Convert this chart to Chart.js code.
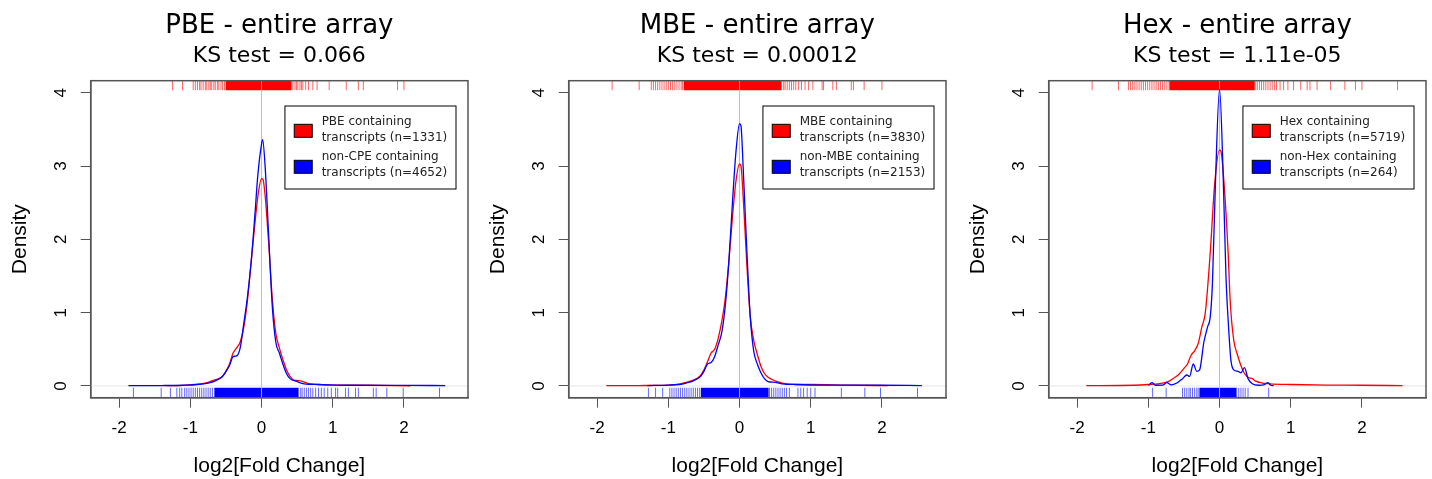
<!DOCTYPE html>
<html>
<head>
<meta charset="utf-8">
<script src="https://cdn.jsdelivr.net/npm/chart.js@4.4.1/dist/chart.umd.min.js"></script>
<style>
  html, body { margin: 0; padding: 0; background: #fff; overflow: hidden; }
  .panel { position: absolute; top: 0; width: 478px; height: 479px; }
</style>
</head>
<body>
<div class="panel" style="left:0"><canvas id="pbeChart"></canvas></div>
<div class="panel" style="left:478px"><canvas id="mbeChart"></canvas></div>
<div class="panel" style="left:958px"><canvas id="hexChart"></canvas></div>
<script>
const xTicks = [-2, -1, 0, 1, 2];
const yTicks = [0, 1, 2, 3, 4];

// PBE - density curves [log2FC, density]
const pbeRed = [[-1.34,0.004],[-1.1,0.008],[-0.95,0.02],[-0.85,0.03],[-0.75,0.05],[-0.67,0.08],[-0.6,0.1],[-0.55,0.13],[-0.5,0.2],[-0.45,0.3],[-0.4,0.45],[-0.35,0.52],[-0.3,0.6],[-0.25,0.8],[-0.2,1.15],[-0.15,1.65],[-0.1,2.15],[-0.05,2.6],[0,2.83],[0.02,2.82],[0.05,2.6],[0.1,1.95],[0.15,1.2],[0.2,0.72],[0.25,0.52],[0.3,0.36],[0.35,0.22],[0.4,0.13],[0.45,0.08],[0.55,0.07],[0.65,0.035],[0.8,0.02],[1.0,0.012],[1.5,0.01],[2.09,0.003]];
const pbeBlue = [[-1.87,0.005],[-1.4,0.006],[-1.1,0.01],[-0.9,0.02],[-0.75,0.04],[-0.65,0.07],[-0.55,0.13],[-0.5,0.2],[-0.45,0.28],[-0.4,0.4],[-0.35,0.41],[-0.3,0.52],[-0.25,0.85],[-0.2,1.2],[-0.15,1.65],[-0.1,2.25],[-0.05,2.9],[0,3.3],[0.015,3.36],[0.05,3.0],[0.1,2.05],[0.15,1.1],[0.2,0.6],[0.25,0.45],[0.3,0.3],[0.35,0.17],[0.4,0.1],[0.5,0.06],[0.6,0.03],[0.8,0.02],[1.2,0.01],[2.0,0.008],[2.58,0.005]];
const pbeRugRed = [-1.25,-1.11,-0.96,-0.93,-0.9,-0.87,-0.85,-0.82,-0.79,-0.77,-0.74,-0.72,-0.7,-0.67,-0.65,-0.62,-0.6,-0.57,-0.55,-0.52,0.42,0.44,0.47,0.49,0.51,0.54,0.56,0.58,0.62,0.66,0.72,0.78,0.95,1.19,1.36,1.43,1.91,2.0];
const pbeRugRedDense = [-0.49,-0.465,-0.44,-0.415,-0.39,-0.365,-0.34,-0.315,-0.29,-0.265,-0.24,-0.215,-0.19,-0.165,-0.14,-0.115,-0.09,-0.065,-0.04,-0.015,0.01,0.035,0.06,0.085,0.11,0.135,0.16,0.185,0.21,0.235,0.26,0.285,0.31,0.335,0.36,0.385,0.4];
const pbeRugBlue = [-1.8,-1.41,-1.28,-1.19,-1.15,-1.12,-1.08,-1.05,-1.02,-0.99,-0.96,-0.93,-0.9,-0.87,-0.84,-0.81,-0.78,-0.75,-0.72,-0.69,0.52,0.55,0.57,0.6,0.63,0.66,0.69,0.72,0.76,0.8,0.84,0.88,0.93,0.98,1.04,1.07,1.18,1.22,1.32,1.36,1.57,1.61,1.76,1.99,2.5];
const pbeRugBlueDense = [-0.65,-0.625,-0.6,-0.575,-0.55,-0.525,-0.5,-0.475,-0.45,-0.425,-0.4,-0.375,-0.35,-0.325,-0.3,-0.275,-0.25,-0.225,-0.2,-0.175,-0.15,-0.125,-0.1,-0.075,-0.05,-0.025,0,0.025,0.05,0.075,0.1,0.125,0.15,0.175,0.2,0.225,0.25,0.275,0.3,0.325,0.35,0.375,0.4,0.425,0.45,0.475,0.5];

// MBE
const mbeRed = [[-1.87,0.005],[-1.4,0.006],[-1.0,0.012],[-0.85,0.025],[-0.75,0.05],[-0.65,0.08],[-0.55,0.14],[-0.5,0.22],[-0.45,0.33],[-0.4,0.45],[-0.35,0.5],[-0.3,0.65],[-0.25,0.88],[-0.2,1.2],[-0.15,1.7],[-0.1,2.3],[-0.05,2.8],[0,3.03],[0.02,3.0],[0.05,2.6],[0.1,1.7],[0.15,0.95],[0.2,0.62],[0.25,0.43],[0.3,0.27],[0.35,0.17],[0.4,0.12],[0.5,0.07],[0.6,0.04],[0.8,0.02],[1.0,0.02],[1.5,0.012],[2.08,0.004]];
const mbeBlue = [[-1.3,0.005],[-1.0,0.012],[-0.85,0.02],[-0.75,0.04],[-0.65,0.07],[-0.55,0.13],[-0.5,0.2],[-0.45,0.3],[-0.4,0.32],[-0.35,0.4],[-0.3,0.56],[-0.25,0.73],[-0.2,1.1],[-0.15,1.7],[-0.1,2.5],[-0.05,3.2],[0,3.58],[0.02,3.55],[0.05,3.0],[0.1,1.9],[0.15,0.95],[0.2,0.47],[0.25,0.3],[0.3,0.18],[0.35,0.1],[0.4,0.06],[0.5,0.05],[0.6,0.03],[0.8,0.02],[1.2,0.012],[2.0,0.01],[2.56,0.005]];
const mbeRugRed = [-1.79,-1.41,-1.24,-1.21,-1.18,-1.15,-1.12,-1.09,-1.06,-1.03,-1.0,-0.97,-0.94,-0.91,-0.88,-0.85,-0.82,-0.8,0.59,0.62,0.64,0.67,0.7,0.73,0.76,0.79,0.83,0.87,0.92,0.97,1.03,1.16,1.18,1.31,1.36,1.57,1.6,1.75,2.0];
const mbeRugRedDense = [-0.77,-0.745,-0.72,-0.695,-0.67,-0.645,-0.62,-0.595,-0.57,-0.545,-0.52,-0.495,-0.47,-0.445,-0.42,-0.395,-0.37,-0.345,-0.32,-0.295,-0.27,-0.245,-0.22,-0.195,-0.17,-0.145,-0.12,-0.095,-0.07,-0.045,-0.02,0.005,0.03,0.055,0.08,0.105,0.13,0.155,0.18,0.205,0.23,0.255,0.28,0.305,0.33,0.355,0.38,0.405,0.43,0.455,0.48,0.505,0.53,0.555,0.57];
const mbeRugBlue = [-1.28,-1.18,-1.08,-0.98,-0.95,-0.92,-0.89,-0.86,-0.83,-0.8,-0.77,-0.74,-0.71,-0.68,-0.65,-0.62,-0.59,-0.56,0.42,0.45,0.48,0.51,0.54,0.57,0.6,0.63,0.66,0.7,0.82,0.86,0.9,0.95,1.0,1.06,1.43,1.76,1.98,2.5];
const mbeRugBlueDense = [-0.53,-0.505,-0.48,-0.455,-0.43,-0.405,-0.38,-0.355,-0.33,-0.305,-0.28,-0.255,-0.23,-0.205,-0.18,-0.155,-0.13,-0.105,-0.08,-0.055,-0.03,-0.005,0.02,0.045,0.07,0.095,0.12,0.145,0.17,0.195,0.22,0.245,0.27,0.295,0.32,0.345,0.37,0.395];

// Hex
const hexRed = [[-1.87,0.005],[-1.2,0.01],[-1.0,0.02],[-0.8,0.04],[-0.7,0.07],[-0.64,0.11],[-0.57,0.16],[-0.5,0.24],[-0.45,0.3],[-0.4,0.42],[-0.35,0.48],[-0.3,0.58],[-0.25,0.8],[-0.2,1.0],[-0.13,1.83],[-0.07,2.74],[0,3.22],[0.02,3.2],[0.065,2.74],[0.12,1.83],[0.15,1.15],[0.2,0.62],[0.25,0.43],[0.3,0.28],[0.35,0.17],[0.4,0.12],[0.46,0.1],[0.5,0.07],[0.6,0.04],[0.7,0.03],[1.0,0.02],[1.5,0.012],[2.0,0.01],[2.57,0.005]];
const hexBlue = [[-1.0,0.005],[-0.95,0.045],[-0.9,0.01],[-0.8,0.012],[-0.74,0.045],[-0.68,0.015],[-0.6,0.04],[-0.52,0.1],[-0.46,0.15],[-0.42,0.13],[-0.37,0.3],[-0.32,0.2],[-0.28,0.22],[-0.22,0.6],[-0.17,0.8],[-0.13,0.95],[-0.1,1.4],[-0.06,2.7],[0,4.05],[0.05,2.9],[0.09,1.5],[0.13,0.75],[0.16,0.35],[0.2,0.22],[0.26,0.2],[0.3,0.18],[0.35,0.25],[0.4,0.1],[0.46,0.03],[0.55,0.01],[0.62,0.015],[0.68,0.045],[0.72,0.01],[0.76,0.005]];
const hexRugRed = [-1.79,-1.42,-1.28,-1.25,-1.22,-1.19,-1.16,-1.13,-1.1,-1.07,-1.04,-1.01,-0.98,-0.95,-0.92,-0.89,-0.86,-0.83,-0.8,-0.77,-0.74,-0.71,0.5,0.53,0.56,0.59,0.62,0.65,0.68,0.71,0.74,0.77,0.8,0.85,0.9,0.96,1.04,1.14,1.23,1.27,1.37,1.56,1.76,1.91,2.0,2.5];
const hexRugRedDense = [-0.69,-0.665,-0.64,-0.615,-0.59,-0.565,-0.54,-0.515,-0.49,-0.465,-0.44,-0.415,-0.39,-0.365,-0.34,-0.315,-0.29,-0.265,-0.24,-0.215,-0.19,-0.165,-0.14,-0.115,-0.09,-0.065,-0.04,-0.015,0.01,0.035,0.06,0.085,0.11,0.135,0.16,0.185,0.21,0.235,0.26,0.285,0.31,0.335,0.36,0.385,0.41,0.435,0.46,0.48];
const hexRugBlue = [-0.94,-0.75,-0.52,-0.49,-0.46,-0.43,-0.41,-0.38,-0.35,-0.32,-0.3,0.24,0.27,0.3,0.33,0.36,0.4,0.69];
const hexRugBlueDense = [-0.27,-0.245,-0.22,-0.195,-0.17,-0.145,-0.12,-0.095,-0.07,-0.045,-0.02,0.005,0.03,0.055,0.08,0.105,0.13,0.155,0.18,0.205,0.22];

const axisFont = '"Liberation Sans", Arial, sans-serif';
const titleFont = '"DejaVu Sans", Verdana, sans-serif';

// rug, reference lines, box and legend, drawn the way R does it
function rDecor(rug) {
  return {
    id: 'rDecor',
    beforeDatasetsDraw(chart) {
      const { ctx, chartArea: a, scales: { x, y } } = chart;
      ctx.save();
      ctx.beginPath();
      ctx.rect(a.left, a.top, a.right - a.left, a.bottom - a.top);
      ctx.clip();
      const y0 = y.getPixelForValue(0);
      ctx.strokeStyle = '#e6e6e6';
      ctx.lineWidth = 1;
      ctx.beginPath(); ctx.moveTo(a.left, y0); ctx.lineTo(a.right, y0); ctx.stroke();

      const marks = (vals, w, color, y1, y2) => {
        ctx.strokeStyle = color;
        ctx.lineWidth = w;
        ctx.beginPath();
        vals.forEach(v => {
          const px = x.getPixelForValue(v);
          ctx.moveTo(px, y1); ctx.lineTo(px, y2);
        });
        ctx.stroke();
      };
      marks(rug.redSparse, 1, 'rgba(255,0,0,0.6)', a.top, a.top + 9.5);
      marks(rug.redDense, 1.9, '#ff0000', a.top, a.top + 9.5);
      marks(rug.blueSparse, 1, 'rgba(0,0,255,0.6)', a.bottom - 10, a.bottom);
      marks(rug.blueDense, 1.9, '#0000ff', a.bottom - 10, a.bottom);

      const x0 = x.getPixelForValue(0);
      ctx.strokeStyle = '#bdbdbd';
      ctx.lineWidth = 1;
      ctx.beginPath(); ctx.moveTo(x0, a.top); ctx.lineTo(x0, a.bottom); ctx.stroke();
      ctx.restore();
    },
    afterDraw(chart) {
      const { ctx, chartArea: a } = chart;
      ctx.save();
      ctx.strokeStyle = '#555';
      ctx.lineWidth = 1.5;
      ctx.strokeRect(a.left, a.top, a.right - a.left, a.bottom - a.top);

      // legend box
      ctx.font = '12px ' + titleFont;
      const sets = chart.data.datasets;
      let w = 0;
      sets.forEach(d => d.label.forEach(t => { w = Math.max(w, ctx.measureText(t).width); }));
      const right = a.right - 12;
      const left = right - (w + 45.4);
      const top = a.top + 25.3;
      ctx.fillStyle = '#fff';
      ctx.fillRect(left, top, right - left, 83);
      ctx.strokeStyle = '#000';
      ctx.lineWidth = 1;
      ctx.strokeRect(left, top, right - left, 83);
      ctx.textBaseline = 'middle';
      ctx.textAlign = 'left';
      sets.forEach((d, i) => {
        const sy = top + 18.3 + i * 36;
        ctx.fillStyle = d.borderColor;
        ctx.fillRect(left + 9.3, sy, 18, 13);
        ctx.strokeRect(left + 9.3, sy, 18, 13);
        ctx.fillStyle = '#222';
        d.label.forEach((t, j) => {
          ctx.fillText(t, left + 36.7, top + 15.7 + i * 35 + j * 16.6);
        });
      });
      ctx.restore();
    }
  };
}

function makePanel(id, title, ks, redLabel, blueLabel, red, blue, rug) {
  new Chart(document.getElementById(id), {
    type: 'line',
    data: {
      datasets: [
        { label: redLabel, data: red.map(p => ({ x: p[0], y: p[1] })), borderColor: '#ff0000', order: 1 },
        { label: blueLabel, data: blue.map(p => ({ x: p[0], y: p[1] })), borderColor: '#0000ff', order: 0 }
      ]
    },
    options: {
      responsive: true,
      maintainAspectRatio: false,
      animation: false,
      devicePixelRatio: 1,
      layout: { padding: { left: 0, right: 10, top: 0, bottom: 0 } },
      elements: {
        line: { borderWidth: 1.3, cubicInterpolationMode: 'monotone', fill: false },
        point: { radius: 0 }
      },
      scales: {
        x: {
          type: 'linear',
          min: -2.4,
          max: 2.9,
          afterBuildTicks: s => { s.ticks = xTicks.map(v => ({ value: v })); },
          afterFit: s => { s.height = 81.3; },
          grid: { drawOnChartArea: false, drawTicks: true, tickLength: 10, color: '#555' },
          border: { display: true, color: '#555', width: 1.5 },
          ticks: { autoSkip: false, maxRotation: 0, padding: 10.4, color: '#000', font: { family: axisFont, size: 17 } },
          title: { display: true, text: 'log2[Fold Change]', color: '#000', font: { family: axisFont, size: 21 }, padding: { top: 0, bottom: 0 } }
        },
        y: {
          type: 'linear',
          min: -0.16,
          max: 4.165,
          afterBuildTicks: s => { s.ticks = yTicks.map(v => ({ value: v })); },
          afterFit: s => { s.width = 90.7; },
          grid: { drawOnChartArea: false, drawTicks: true, tickLength: 10, color: '#555' },
          border: { display: true, color: '#555', width: 1.5 },
          ticks: { minRotation: 90, maxRotation: 90, crossAlign: 'center', padding: 14.3, color: '#000', font: { family: axisFont, size: 17 } },
          title: { display: true, text: 'Density', color: '#000', font: { family: axisFont, size: 21 }, padding: { top: 7.4, bottom: 0 } }
        }
      },
      plugins: {
        legend: { display: false },
        tooltip: { enabled: false },
        title: {
          display: true, text: title, fullSize: false, color: '#000',
          font: { family: titleFont, size: 26, weight: 'normal' },
          padding: { top: 10.4, bottom: 1.5 }
        },
        subtitle: {
          display: true, text: ks, fullSize: false, color: '#000',
          font: { family: titleFont, size: 22, weight: 'normal' },
          padding: { top: 0, bottom: 11.2 }
        }
      }
    },
    plugins: [rDecor(rug)]
  });
}

makePanel('pbeChart', 'PBE - entire array', 'KS test = 0.066',
  ['PBE containing', 'transcripts (n=1331)'], ['non-CPE containing', 'transcripts (n=4652)'],
  pbeRed, pbeBlue,
  { redSparse: pbeRugRed, redDense: pbeRugRedDense, blueSparse: pbeRugBlue, blueDense: pbeRugBlueDense });

makePanel('mbeChart', 'MBE - entire array', 'KS test = 0.00012',
  ['MBE containing', 'transcripts (n=3830)'], ['non-MBE containing', 'transcripts (n=2153)'],
  mbeRed, mbeBlue,
  { redSparse: mbeRugRed, redDense: mbeRugRedDense, blueSparse: mbeRugBlue, blueDense: mbeRugBlueDense });

makePanel('hexChart', 'Hex - entire array', 'KS test = 1.11e-05',
  ['Hex containing', 'transcripts (n=5719)'], ['non-Hex containing', 'transcripts (n=264)'],
  hexRed, hexBlue,
  { redSparse: hexRugRed, redDense: hexRugRedDense, blueSparse: hexRugBlue, blueDense: hexRugBlueDense });
</script>
</body>
</html>
